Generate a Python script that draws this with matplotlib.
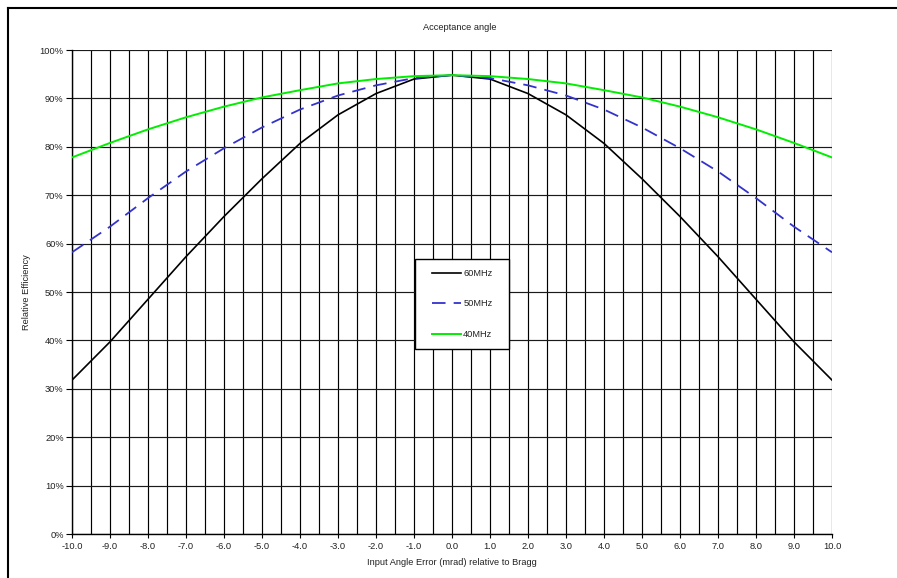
import matplotlib
matplotlib.use("Agg")
import matplotlib.pyplot as plt
from matplotlib.lines import Line2D
from matplotlib.patches import Rectangle
from matplotlib.ticker import MultipleLocator, FuncFormatter

plt.rcParams['font.family'] = ['Liberation Sans', 'DejaVu Sans']

angle = [-10, -9, -8, -7, -6, -5, -4, -3, -2, -1, 0, 1, 2, 3, 4, 5, 6, 7, 8, 9, 10]
eff_60 = [31.8, 39.7, 48.5, 57.3, 65.6, 73.4, 80.7, 86.6, 91.0, 94.0, 94.8,
          94.0, 91.0, 86.6, 80.7, 73.4, 65.6, 57.3, 48.5, 39.7, 31.8]
eff_50 = [58.2, 63.5, 69.4, 74.9, 79.7, 84.0, 87.7, 90.6, 92.7, 94.2, 94.8,
          94.2, 92.7, 90.6, 87.7, 84.0, 79.7, 74.9, 69.4, 63.5, 58.2]
eff_40 = [77.8, 80.8, 83.6, 86.1, 88.3, 90.2, 91.7, 93.1, 94.0, 94.6, 94.8,
          94.6, 94.0, 93.1, 91.7, 90.2, 88.3, 86.1, 83.6, 80.8, 77.8]
labels = ["60MHz", "50MHz", "40MHz"]

W, H = 897, 578
fig = plt.figure(figsize=(W / 100, H / 100), dpi=100)
ax = fig.add_axes([72 / W, 1 - 534 / H, (832 - 72) / W, (534 - 50) / H])

tc = '#222222'
fs = 6.7

ax.plot(angle, [v / 100 for v in eff_60], color='black', lw=1.2, label=labels[0], zorder=3)
ax.plot(angle, [v / 100 for v in eff_50], color='#3333CC', lw=1.3, dashes=(7.5, 4.5),
        label=labels[1], zorder=3)
ax.plot(angle, [v / 100 for v in eff_40], color='#00EE00', lw=1.4, label=labels[2], zorder=3)

ax.set_xlim(-10, 10)
ax.set_ylim(0, 1.0)
ax.xaxis.set_major_locator(MultipleLocator(1.0))
ax.xaxis.set_minor_locator(MultipleLocator(0.5))
ax.yaxis.set_major_locator(MultipleLocator(0.1))
ax.xaxis.set_major_formatter(FuncFormatter(lambda v, p: f"{v:.1f}"))
ax.yaxis.set_major_formatter(FuncFormatter(lambda v, p: f"{int(round(v * 100))}%"))

ax.grid(True, which='both', axis='x', color='black', lw=0.85)
ax.grid(True, which='major', axis='y', color='#1a1a1a', lw=0.85)
ax.set_axisbelow(True)

for s in ['top', 'right']:
    ax.spines[s].set_visible(False)
for s in ['left', 'bottom']:
    ax.spines[s].set_color('black')
    ax.spines[s].set_linewidth(1.0)

ax.tick_params(axis='y', which='major', direction='out', length=4, width=0.8,
               labelsize=fs, labelcolor=tc, pad=2)
ax.tick_params(axis='x', which='major', direction='out', length=3, width=0.8,
               labelsize=fs, labelcolor=tc, pad=3)
ax.tick_params(axis='x', which='minor', direction='out', length=0)

ax.set_xlabel("Input Angle Error (mrad) relative to Bragg", fontsize=fs, color=tc, labelpad=5)
ax.set_ylabel("Relative Efficiency", fontsize=fs, color=tc, labelpad=6)
fig.text(460 / W, 1 - 28 / H, "Acceptance angle", fontsize=fs, color=tc,
         ha='center', va='center')

leg = ax.legend(loc='center', bbox_to_anchor=(462 / W, 1 - 304 / H),
                bbox_transform=fig.transFigure, fontsize=fs, frameon=False,
                handlelength=3.2, handletextpad=0.2, labelspacing=2.3,
                borderpad=1.2)
leg.set_zorder(6)
for t in leg.get_texts():
    t.set_color(tc)

# legend box (drawn under the legend entries)
ax.add_patch(Rectangle((415 / W, 1 - 349 / H), (509 - 415) / W, (349 - 259) / H,
                       transform=fig.transFigure, facecolor='white',
                       edgecolor='black', lw=1.0, zorder=5, clip_on=False))

# outer chart frame (partially cropped)
fig.add_artist(Line2D([8 / W, 8 / W], [1 - 8 / H, 0], transform=fig.transFigure,
                      color='black', lw=1.5))
fig.add_artist(Line2D([8 / W, 1], [1 - 8 / H, 1 - 8 / H], transform=fig.transFigure,
                      color='black', lw=1.5))

fig.savefig("out.png", dpi=100)
